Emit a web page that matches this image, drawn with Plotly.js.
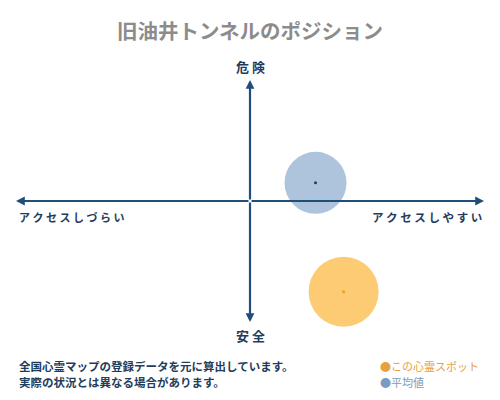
<!DOCTYPE html>
<html><head><meta charset="utf-8">
<script src="https://cdn.plot.ly/plotly-3.0.1.min.js"></script>
<style>html,body{margin:0;padding:0;background:#fff}#c{width:500px;height:400px}</style>
</head><body><div id="c"></div>
<script>
const titleText = "旧油井トンネルのポジション";
const axisLabels = {top: "危 険", bottom: "安 全", left: "ア ク セ ス し づ ら い", right: "ア ク セ ス し や す い"};
const seriesNames = ["平均値", "この心霊スポット"];
const seriesX = [0.28, 0.40];
const seriesY = [0.15, -0.75];
const seriesColors = ["rgba(140,170,205,0.7)", "rgba(252,185,70,0.75)"];
const dotColors = ["#1f3d5c", "#f0a020"];
const bubbleSizes = [62, 70];
const noteLines = ["全国心霊マップの登録データを元に算出しています。", "実際の状況とは異なる場合があります。"];
const legendLabels = ["●この心霊スポット", "●平均値"];
const legendColors = ["#e8a040", "#7a9cc0"];

const navy = "#1f4e79";
const font = "'Noto Sans CJK JP', 'Noto Sans', sans-serif";

const traces = [];
for (let i = 0; i < seriesNames.length; i++) {
  traces.push({
    x: [seriesX[i]], y: [seriesY[i]], type: "scatter", mode: "markers",
    name: seriesNames[i], hoverinfo: "skip", cliponaxis: false,
    marker: {size: bubbleSizes[i], color: seriesColors[i], line: {width: 0}}
  });
  traces.push({
    x: [seriesX[i]], y: [seriesY[i]], type: "scatter", mode: "markers",
    hoverinfo: "skip", cliponaxis: false, marker: {size: 3, color: dotColors[i]}
  });
}

function arrow(x, y) {
  return {x: x, y: y, ax: 0, ay: 0, xref: "x", yref: "y", axref: "x", ayref: "y",
    showarrow: true, arrowhead: 2, arrowsize: 0.8, arrowwidth: 2.2, arrowcolor: navy, text: ""};
}
const annotations = [
  arrow(-1, 0), arrow(1, 0), arrow(0, 1), arrow(0, -1),
  {x: 0, y: 1, xref: "x", yref: "y", yshift: 14, showarrow: false, text: "<b>" + axisLabels.top + "</b>", font: {family: font, size: 13, color: "#1f3d5c"}},
  {x: 0, y: -1, xref: "x", yref: "y", yshift: -13, showarrow: false, text: "<b>" + axisLabels.bottom + "</b>", font: {family: font, size: 13, color: "#1f3d5c"}},
  {x: -1, y: 0, xref: "x", yref: "y", xanchor: "left", xshift: 1, yshift: -16, showarrow: false, text: "<b>" + axisLabels.left + "</b>", font: {family: font, size: 11, color: "#1f3d5c"}},
  {x: 1, y: 0, xref: "x", yref: "y", xanchor: "right", yshift: -16, showarrow: false, text: "<b>" + axisLabels.right + "</b>", font: {family: font, size: 11.5, color: "#1f3d5c"}}
];
noteLines.forEach((t, i) => annotations.push({
  xref: "paper", yref: "paper", x: 0.002, y: -0.182 - i * 0.066, xanchor: "left", yanchor: "middle",
  showarrow: false, text: "<b>" + t + "</b>", font: {family: font, size: 11.5, color: "#1f3d5c"}
}));
legendLabels.forEach((t, i) => annotations.push({
  xref: "paper", yref: "paper", x: 0.773, y: -0.182 - i * 0.066, xanchor: "left", yanchor: "middle",
  showarrow: false, text: t, font: {family: font, size: 11, color: legendColors[i]}
}));

const layout = {
  width: 500, height: 400,
  paper_bgcolor: "#fff", plot_bgcolor: "#fff",
  margin: {l: 16, r: 16, t: 80, b: 78},
  showlegend: false,
  title: {text: "<b>" + titleText + "</b>", x: 0.5, xanchor: "center", y: 0.92, yanchor: "middle",
    font: {family: font, size: 20.5, color: "#8c8c8c"}},
  xaxis: {range: [-1, 1], visible: false, fixedrange: true},
  yaxis: {range: [-1, 1], visible: false, fixedrange: true},
  annotations: annotations
};
Plotly.newPlot("c", traces, layout, {displayModeBar: false, staticPlot: true});
</script></body></html>
